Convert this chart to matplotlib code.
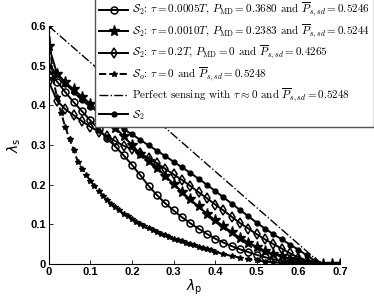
import numpy as np
import matplotlib.pyplot as plt

plt.rcParams['mathtext.fontset'] = 'cm'

# S2 curves, sampled every 0.02 in lambda_p
xs_circ = [0.00, 0.02, 0.04, 0.06, 0.08, 0.10, 0.12, 0.14, 0.16, 0.18, 0.20, 0.22, 0.24,
           0.26, 0.28, 0.30, 0.32, 0.34, 0.36, 0.38, 0.40, 0.42, 0.44, 0.46, 0.48, 0.50,
           0.52, 0.54, 0.56, 0.58, 0.60, 0.62, 0.64]
ys_circ = [0.490, 0.460, 0.433, 0.408, 0.385, 0.362, 0.340, 0.318, 0.296, 0.274, 0.250, 0.224, 0.197,
           0.174, 0.153, 0.135, 0.118, 0.103, 0.089, 0.076, 0.064, 0.054, 0.045, 0.037, 0.030, 0.023,
           0.017, 0.012, 0.008, 0.005, 0.003, 0.001, 0.000]

xs_star = [0.00, 0.02, 0.04, 0.06, 0.08, 0.10, 0.12, 0.14, 0.16, 0.18, 0.20, 0.22, 0.24,
           0.26, 0.28, 0.30, 0.32, 0.34, 0.36, 0.38, 0.40, 0.42, 0.44, 0.46, 0.48, 0.50,
           0.52, 0.54, 0.56, 0.58, 0.60, 0.62, 0.64, 0.66, 0.68, 0.70]
ys_star = [0.550, 0.480, 0.458, 0.440, 0.422, 0.404, 0.385, 0.365, 0.344, 0.322, 0.300, 0.278, 0.260,
           0.243, 0.222, 0.202, 0.182, 0.163, 0.145, 0.127, 0.110, 0.095, 0.080, 0.066, 0.054, 0.043,
           0.033, 0.025, 0.019, 0.013, 0.009, 0.005, 0.003, 0.001, 0.000, 0.000]

xs_diam = [0.00, 0.02, 0.04, 0.06, 0.08, 0.10, 0.12, 0.14, 0.16, 0.18, 0.20, 0.22, 0.24,
           0.26, 0.28, 0.30, 0.32, 0.34, 0.36, 0.38, 0.40, 0.42, 0.44, 0.46, 0.48, 0.50,
           0.52, 0.54, 0.56, 0.58, 0.60, 0.62, 0.64]
ys_diam = [0.460, 0.412, 0.390, 0.375, 0.360, 0.346, 0.334, 0.322, 0.310, 0.298, 0.290, 0.279, 0.267,
           0.254, 0.240, 0.226, 0.212, 0.197, 0.181, 0.166, 0.150, 0.135, 0.119, 0.103, 0.089, 0.075,
           0.062, 0.050, 0.039, 0.027, 0.016, 0.007, 0.000]

xs_dot = [0.00, 0.02, 0.04, 0.06, 0.08, 0.10, 0.12, 0.14, 0.16, 0.18, 0.20, 0.22, 0.24,
          0.26, 0.28, 0.30, 0.32, 0.34, 0.36, 0.38, 0.40, 0.42, 0.44, 0.46, 0.48, 0.50,
          0.52, 0.54, 0.56, 0.58, 0.60, 0.62, 0.64]
ys_dot = [0.500, 0.480, 0.455, 0.434, 0.413, 0.397, 0.383, 0.368, 0.354, 0.340, 0.327, 0.313, 0.299,
          0.286, 0.272, 0.258, 0.244, 0.230, 0.215, 0.200, 0.184, 0.168, 0.152, 0.136, 0.120, 0.104,
          0.089, 0.075, 0.062, 0.049, 0.036, 0.022, 0.008]

# S_o curve, sampled every 0.01
xs_so = [0.00, 0.01, 0.02, 0.03, 0.04, 0.05, 0.06, 0.07, 0.08, 0.09, 0.10, 0.11, 0.12, 0.13,
         0.14, 0.15, 0.16, 0.17, 0.18, 0.19, 0.20, 0.21, 0.22, 0.23, 0.24, 0.25, 0.26, 0.27,
         0.28, 0.29, 0.30, 0.31, 0.32, 0.33, 0.34, 0.35, 0.36, 0.37, 0.38, 0.39, 0.40, 0.42,
         0.44, 0.46, 0.48, 0.50, 0.52, 0.54, 0.56, 0.58, 0.60]
ys_so = [0.600, 0.470, 0.420, 0.380, 0.345, 0.315, 0.288, 0.258, 0.240, 0.224, 0.210, 0.197, 0.184, 0.172,
         0.162, 0.152, 0.143, 0.135, 0.127, 0.120, 0.113, 0.107, 0.101, 0.095, 0.090, 0.085, 0.080, 0.076,
         0.072, 0.068, 0.064, 0.060, 0.057, 0.053, 0.050, 0.047, 0.044, 0.041, 0.038, 0.035, 0.031, 0.025,
         0.020, 0.016, 0.012, 0.009, 0.006, 0.004, 0.003, 0.002, 0.001]

# perfect sensing line
xs_ps = [0.0, 0.655]
ys_ps = [0.60, 0.0]

labels = [
    r'$\mathcal{S}_2$: $\tau = 0.0005T$, $P_{\rm MD} = 0.3680$ and $\overline{P}_{s,sd} = 0.5246$',
    r'$\mathcal{S}_2$: $\tau = 0.0010T$, $P_{\rm MD} = 0.2383$ and $\overline{P}_{s,sd} = 0.5244$',
    r'$\mathcal{S}_2$: $\tau = 0.2T$, $P_{\rm MD} = 0$ and $\overline{P}_{s,sd} = 0.4265$',
    r'$\mathcal{S}_o$: $\tau = 0$ and $\overline{P}_{s,sd} = 0.5248$',
    r'Perfect sensing with $\tau \approx 0$ and $\overline{P}_{s,sd} = 0.5248$',
    r'$\mathcal{S}_2$',
]

W, H = 374, 299
fig = plt.figure(figsize=(W / 100, H / 100), dpi=100)
ax = fig.add_axes([48.7 / W, (H - 264) / H, (340 - 48.7) / W, (264 - 26) / H])

lw = 1.4
h1, = ax.plot(xs_circ, ys_circ, '-', color='k', lw=lw, marker='o', ms=5, mfc='none', mew=1.1)
h2, = ax.plot(xs_star, ys_star, '-', color='k', lw=lw, marker='*', ms=8)
h3, = ax.plot(xs_diam, ys_diam, '-', color='k', lw=lw, marker='d', ms=5, mfc='none', mew=1.1)
h4, = ax.plot(xs_so, ys_so, '--', color='k', lw=lw, marker='*', ms=4)
h5, = ax.plot(xs_ps, ys_ps, '-.', color='k', lw=1.0)
h6, = ax.plot(xs_dot, ys_dot, '-', color='k', lw=lw, marker='o', ms=3.5)

ax.set_xlim(0, 0.7)
ax.set_ylim(0, 0.6)
ax.set_xticks(np.arange(0, 0.71, 0.1))
ax.set_yticks(np.arange(0, 0.61, 0.1))
ax.set_xticklabels(['0', '0.1', '0.2', '0.3', '0.4', '0.5', '0.6', '0.7'])
ax.set_yticklabels(['0', '0.1', '0.2', '0.3', '0.4', '0.5', '0.6'])
ax.tick_params(direction='in', length=3, width=0.6, pad=2)
for t in ax.get_xticklabels() + ax.get_yticklabels():
    t.set_fontfamily('Liberation Sans')
    t.set_fontweight('bold')
    t.set_fontsize(8)
for s in ['top', 'right']:
    ax.spines[s].set_visible(False)
for s in ['left', 'bottom']:
    ax.spines[s].set_linewidth(0.8)

ax.set_xlabel(r'$\lambda_{\mathrm{p}}$', fontsize=10, math_fontfamily='dejavusans', labelpad=1)
ax.set_ylabel(r'$\lambda_{\mathrm{s}}$', fontsize=10, math_fontfamily='dejavusans', labelpad=5)

leg = fig.legend([h1, h2, h3, h4, h5, h6], labels, loc='upper left',
                 bbox_to_anchor=(95 / W, 1 + 3 / H), borderaxespad=0,
                 prop={'family': ['cmr10', 'DejaVu Serif'], 'size': 8},
                 handlelength=2.6, handletextpad=0.3, labelspacing=0.3,
                 borderpad=0.4, frameon=True, fancybox=False, framealpha=1)
leg.get_frame().set_edgecolor('#555555')
leg.get_frame().set_linewidth(1.0)

fig.savefig('out.png', dpi=100)
